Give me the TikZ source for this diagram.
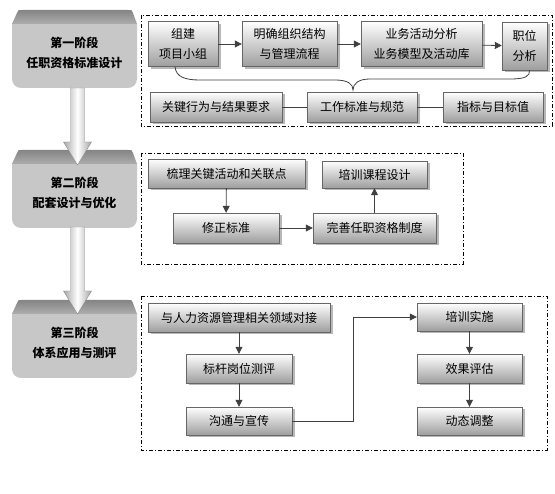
\documentclass[tikz,border=0pt]{standalone}
\usepackage{fontspec}
\setmainfont{Noto Sans CJK SC}
\usetikzlibrary{arrows.meta,shadows,calc}

\begin{document}
\begin{tikzpicture}[x=1pt, y=-1pt, font=\fontsize{12}{20}\selectfont,
		box/.style={draw=black!60, top color=white, bottom color=black!38, inner sep=0pt, align=center,
			minimum height=29pt, minimum width=#1,
			drop shadow={shadow xshift=2.5pt, shadow yshift=-2.5pt, fill=black!28, opacity=1}},
		frame/.style={draw=black, dash pattern=on 4pt off 2pt on 1pt off 2pt},
		link/.style={draw=black!75, line width=0.8pt},
		arr/.style={link, -{Triangle[length=7pt, width=7pt]}},
		stagetext/.style={font=\fontsize{12}{20}\selectfont\bfseries, align=center}]
	\useasboundingbox (0,0) rectangle (555,494);

	% stages
	\foreach \y/\i/\ta/\tb in {10/1/第一阶段/任职资格标准设计, 150/2/第二阶段/配套设计与优化, 300/3/第三阶段/体系应用与测评} {
		\fill[black!22] (12,\y+13) [rounded corners=9pt] -- (12,\y+78) -- (137,\y+78) [sharp corners] -- (137,\y+13) -- cycle;
		\shade[top color=black!48, bottom color=black!32] (12,\y+14) -- (17,\y+3) .. controls (18,\y) .. (22,\y) -- (128,\y) .. controls (132,\y) .. (133,\y+3) -- (137,\y+14) -- cycle;
		\node[stagetext] (s\i) at (74.5,\y+43) {\ta\\\tb};
	}

	% stage arrows
	\foreach \a/\b in {88/165, 227/314} {
		\shade[left color=black!35, right color=black!35, middle color=white, draw=black!45]
			(70.5,\a) -- (84.5,\a) -- (84.5,\b-23) -- (91.5,\b-23) -- (77.5,\b) -- (63.5,\b-23) -- (70.5,\b-23) -- cycle;
	}

	% frames
	\draw[frame] (141,15) rectangle (552,126);
	\draw[frame] (141,153) rectangle (463,264);
	\draw[frame] (141,296) rectangle (547,450);

	% stage 1
	\node[box=70, minimum height=45pt] (n11) at (183,44) {组建\\项目小组};
	\node[box=95, minimum height=45pt] (n12) at (289.5,44) {明确组织结构\\与管理流程};
	\node[box=121, minimum height=45pt] (n13) at (421.5,44) {业务活动分析\\业务模型及活动库};
	\node[box=45, minimum height=48pt] (n14) at (524.5,46) {职位\\分析};
	\node[box=132, minimum height=30pt] (n21) at (216,107) {关键行为与结果要求};
	\node[box=110, minimum height=30pt] (n22) at (362,107) {工作标准与规范};
	\node[box=100, minimum height=30pt] (n23) at (493,107) {指标与目标值};

	\draw[arr] (n11) -- (n12);
	\draw[arr] (n12) -- (n13);
	\draw[arr] (n13) -- (n14);
	\draw[link] (n21) -- (n22);
	\draw[link] (n22) -- (n23);
	\coordinate (cusp) at (353,90);
	\draw[link] ($(n11.south)+(-8,0)$) .. controls (176,77) and (185,80) .. (200,80) -- (335,80)
		.. controls (348,80) and (353,84) .. (cusp)
		.. controls (353,84) and (358,79) .. (370,79) -- (510,79)
		.. controls (526,79) and (530,76) .. ($(n14.south)+(5,0)$);

	% stage 2
	\node[box=157] (m1) at (226.5,173.5) {梳理关键活动和关联点};
	\node[box=106, minimum height=30pt] (m2) at (226,228) {修正标准};
	\node[box=123, minimum height=30pt] (m3) at (374.5,228) {完善任职资格制度};
	\node[box=105, minimum height=27pt] (m4) at (374.5,174.5) {培训课程设计};

	\draw[arr] (m1) -- (m2);
	\draw[arr] (m2) -- (m3);
	\draw[arr] (m3) -- (m4);

	% stage 3
	\node[box=182] (k1) at (239,317.5) {与人力资源管理相关领域对接};
	\node[box=106] (k2) at (239,368.5) {标杆岗位测评};
	\node[box=106, minimum height=28pt] (k3) at (239,421) {沟通与宣传};
	\node[box=105, minimum height=28pt] (k4) at (469.5,317) {培训实施};
	\node[box=105] (k5) at (469.5,368.5) {效果评估};
	\node[box=105, minimum height=28pt] (k6) at (469.5,421) {动态调整};

	\draw[arr] (k1) -- (k2);
	\draw[arr] (k2) -- (k3);
	\draw[arr] (k3.east) -- ++(61,0) |- (k4.west);
	\draw[arr] (k4) -- (k5);
	\draw[arr] (k5) -- (k6);
\end{tikzpicture}
\end{document}
